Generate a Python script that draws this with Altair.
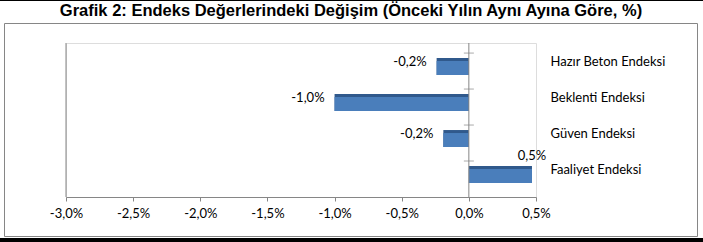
import altair as alt
import pandas as pd

categories = ["Hazır Beton Endeksi", "Beklenti Endeksi", "Güven Endeksi", "Faaliyet Endeksi"]
values = [-0.24, -1.0, -0.19, 0.47]
x_ticks = [-3.0, -2.5, -2.0, -1.5, -1.0, -0.5, 0.0, 0.5]
title_text = "Grafik 2: Endeks Değerlerindeki Değişim (Önceki Yılın Aynı Ayına Göre, %)"

df = pd.DataFrame({"cat": categories, "value": values})
one = pd.DataFrame({"k": [0]})

fmt_expr = "(datum.value < 0 ? '-' : '') + replace(format(abs(datum.value), '.1f'), '.', ',') + '%'"
GRAY = "#868686"
FONT = "Lato"

y_enc = alt.Y(
    "cat:N",
    sort=categories,
    scale=alt.Scale(paddingInner=0, paddingOuter=0.14, align=1),
    axis=alt.Axis(orient="right", title=None, domain=False, ticks=False,
                  labelPadding=14, labelOffset=-9, labelFont=FONT,
                  labelFontSize=13, labelColor="black", labelAlign="left"),
)
x_enc = alt.X(
    "value:Q",
    scale=alt.Scale(domain=[-3, 0.5], nice=False, zero=False),
    axis=alt.Axis(values=x_ticks, labelExpr=fmt_expr, title=None, grid=False,
                  domainColor=GRAY, tickColor=GRAY, tickSize=4,
                  labelFont=FONT, labelFontSize=13, labelPadding=6,
                  labelColor="black", labelFlush=False, labelOverlap=False),
)

base = alt.Chart(df)

bars_dark = base.mark_bar(size=17, yOffset=-4.5, color="#30598C").encode(x=x_enc, y=y_enc)
bars_light = base.mark_bar(size=14, yOffset=-3, color="#4A7EBB").encode(x="value:Q", y=alt.Y("cat:N", sort=categories))

zero_rule = alt.Chart(one).mark_rule(color=GRAY, strokeWidth=1).encode(x=alt.datum(0))
zero_ticks = base.mark_tick(orient="horizontal", size=10, thickness=1, color=GRAY, yOffset=-18).encode(
    x=alt.datum(0), y=alt.Y("cat:N", sort=categories))
left_line = alt.Chart(one).mark_rule(color=GRAY, strokeWidth=1).encode(x=alt.value(0))

txt_neg = base.transform_filter("datum.value < 0").transform_calculate(
    lbl=fmt_expr).mark_text(align="right", baseline="middle", dx=-10, yOffset=-9,
                            font=FONT, fontSize=13, color="black").encode(
    x="value:Q", y=alt.Y("cat:N", sort=categories), text="lbl:N")
txt_pos = base.transform_filter("datum.value >= 0").transform_calculate(
    lbl=fmt_expr).mark_text(align="center", baseline="middle", yOffset=-23,
                            font=FONT, fontSize=13, color="black").encode(
    x="value:Q", y=alt.Y("cat:N", sort=categories), text="lbl:N")

border = alt.Chart(one).mark_rect(fillOpacity=0, stroke=GRAY, strokeWidth=1).encode(
    x=alt.value(-61.5), x2=alt.value(631.5), y=alt.value(-19.5), y2=alt.value(193.5))
strip_top = alt.Chart(one).mark_rect(color="black").encode(
    x=alt.value(-66), x2=alt.value(637), y=alt.value(-43), y2=alt.value(-42))
strip_bot = alt.Chart(one).mark_rect(color="black").encode(
    x=alt.value(-66), x2=alt.value(637), y=alt.value(195), y2=alt.value(199))

chart = alt.layer(
    border, strip_top, strip_bot, left_line, bars_dark, bars_light,
    zero_rule, zero_ticks, txt_neg, txt_pos,
).properties(
    width=470,
    height=154,
    title=alt.TitleParams(title_text, font="Liberation Sans", fontSize=16.5,
                          fontWeight="bold", color="black", anchor="middle",
                          frame="group", dx=50, offset=-35.5, baseline="bottom"),
    autosize=alt.AutoSizeParams(type="none"),
    padding={"left": 66, "top": 43, "right": 167, "bottom": 45},
).configure_view(stroke=None).configure(background="white")

chart.save("out.html", embed_options={"renderer": "svg", "actions": False})
